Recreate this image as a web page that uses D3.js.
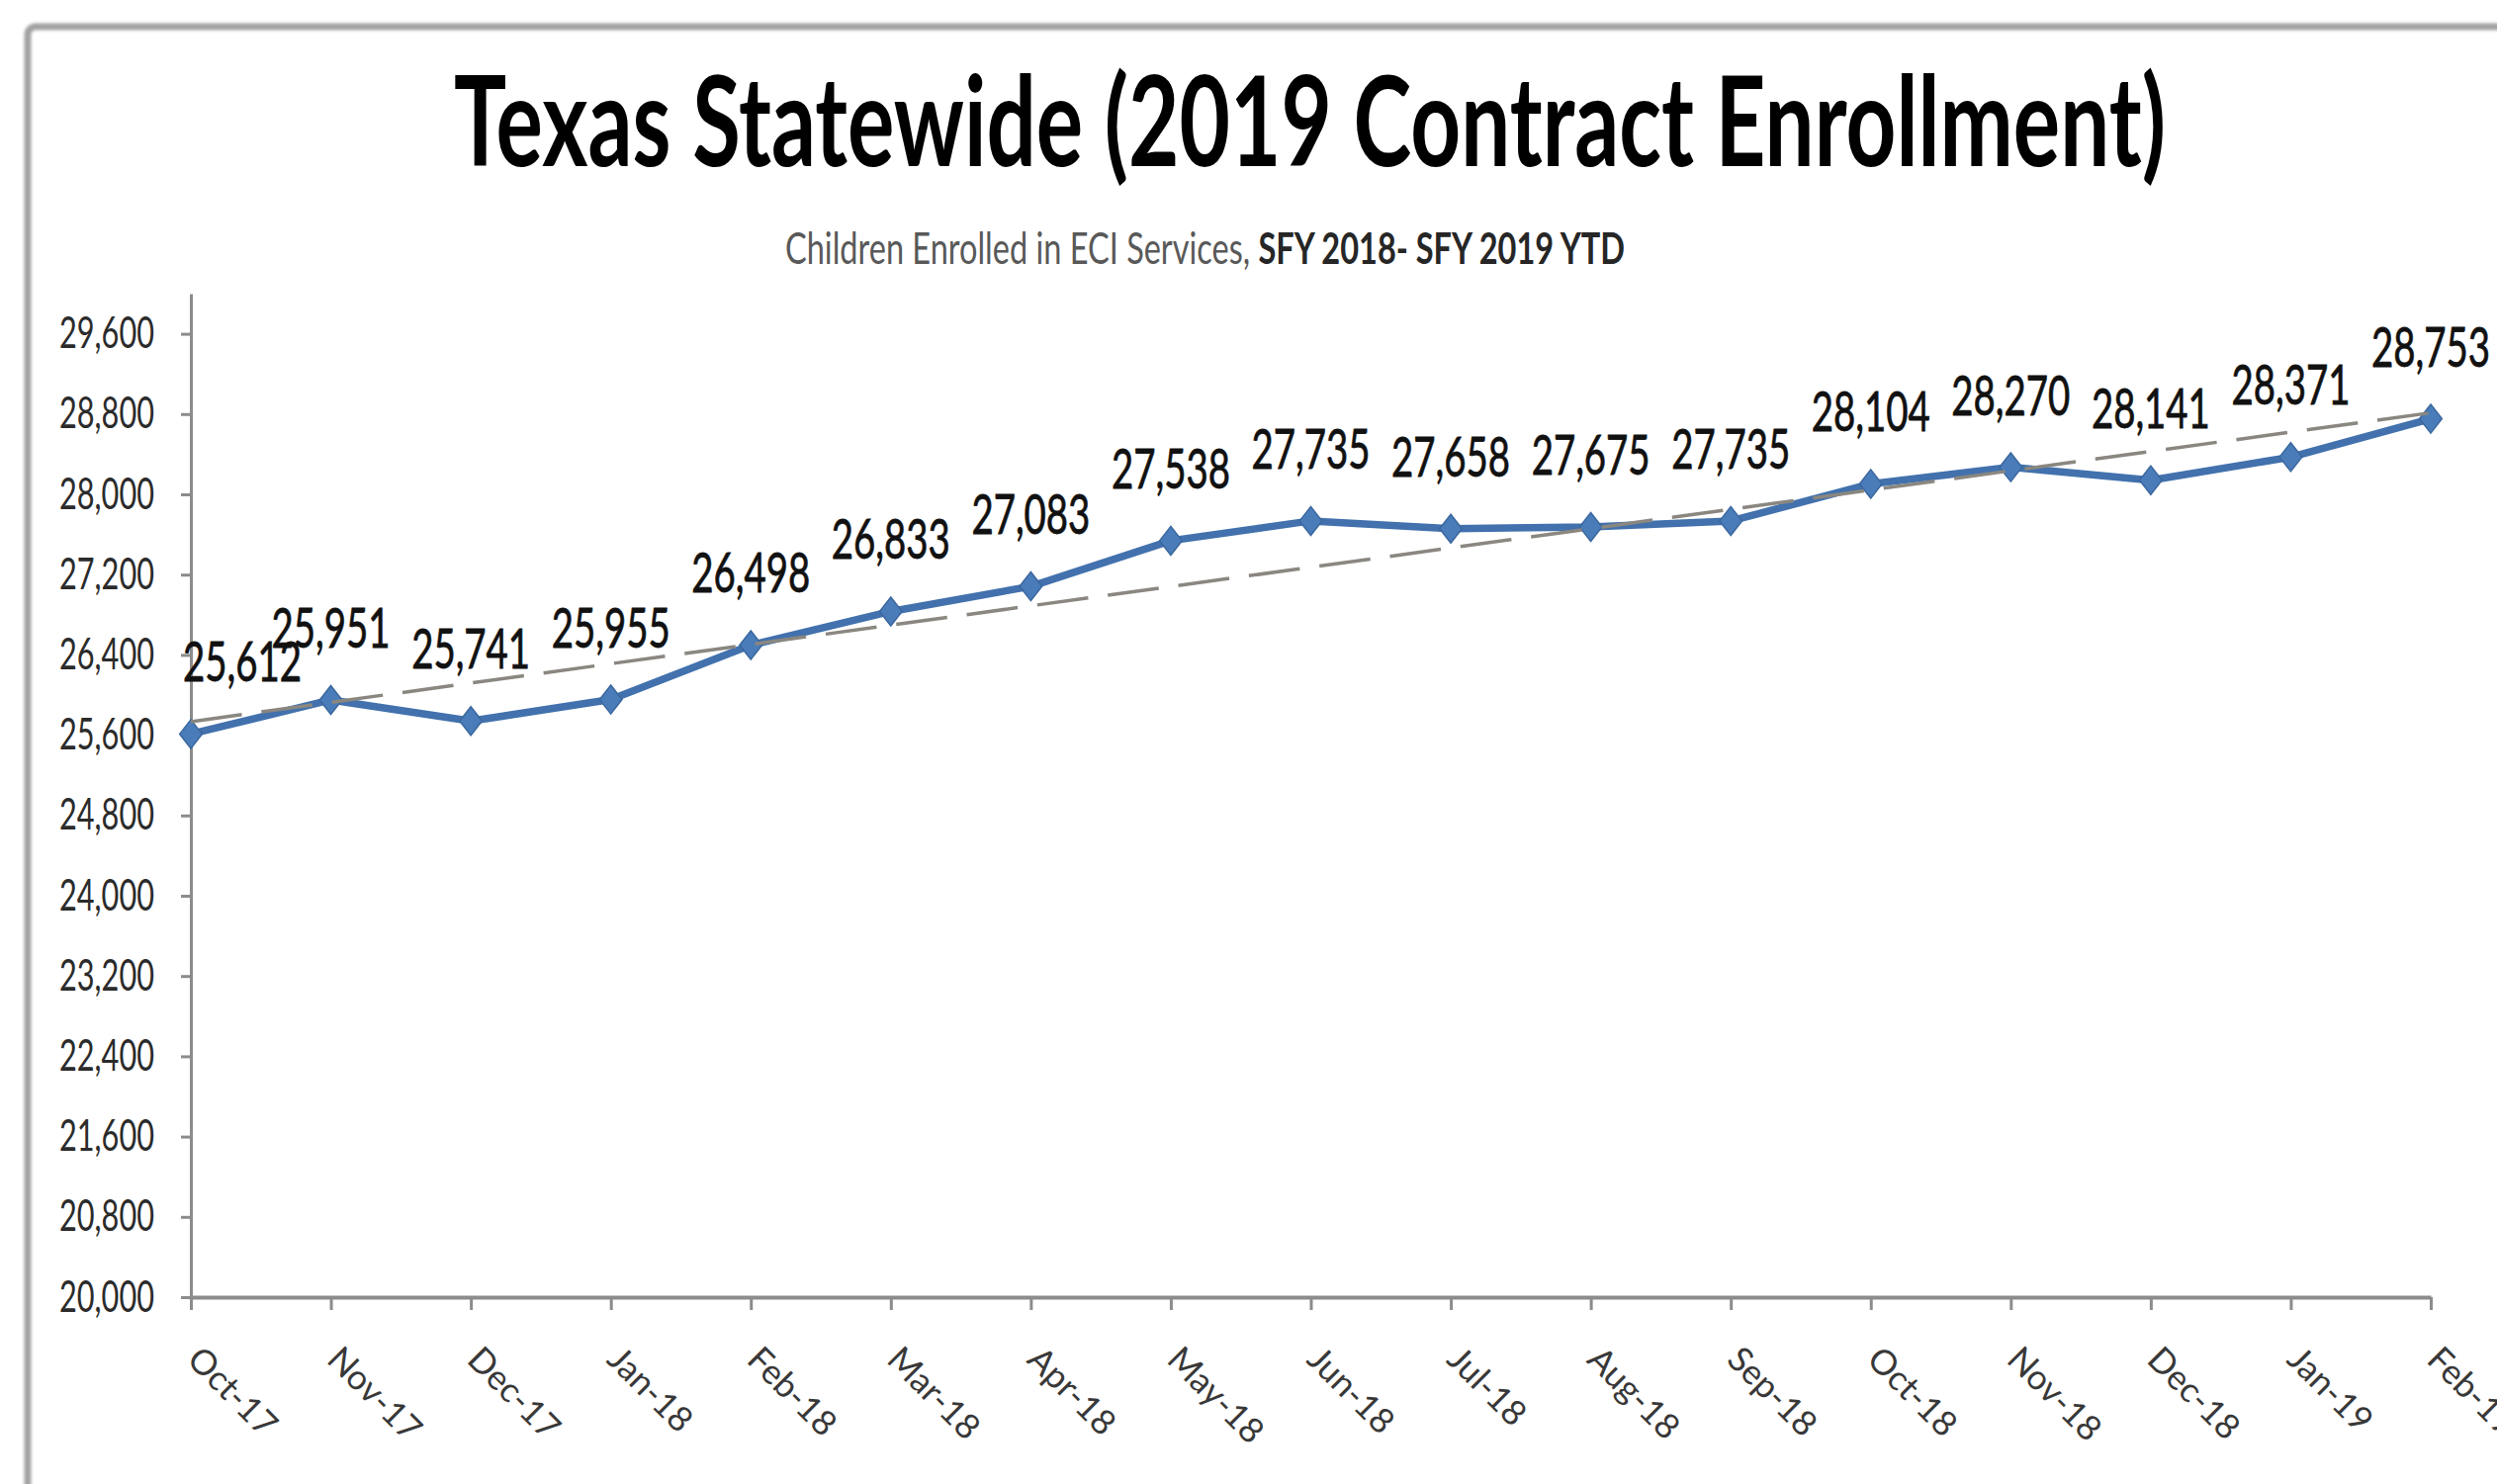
<!DOCTYPE html>
<html>
<head>
<meta charset="utf-8">
<script src="https://cdn.jsdelivr.net/npm/d3@7"></script>
<style>
  html, body { margin: 0; padding: 0; background: #ffffff; }
  svg { display: block; }
</style>
</head>
<body>
<svg id="chart" width="2525" height="1501"></svg>
<script>
// Monthly enrollment, Oct-17 through Feb-19
const months = ["Oct-17", "Nov-17", "Dec-17", "Jan-18", "Feb-18", "Mar-18", "Apr-18", "May-18",
                "Jun-18", "Jul-18", "Aug-18", "Sep-18", "Oct-18", "Nov-18", "Dec-18", "Jan-19", "Feb-19"];
const enrolled = [25612, 25951, 25741, 25955, 26498, 26833, 27083, 27538,
                  27735, 27658, 27675, 27735, 28104, 28270, 28141, 28371, 28753];
const yTickValues = [20000, 20800, 21600, 22400, 23200, 24000, 24800, 25600,
                     26400, 27200, 28000, 28800, 29600];
const yDomain = [20000, 30000];

const chartTitle = "Texas Statewide (2019 Contract Enrollment)";
const subtitleLead = "Children Enrolled  in ECI  Services, ";
const subtitleTail = "SFY 2018- SFY 2019 YTD";

const W = 2525, H = 1501;
const FONT = "Lato, 'Open Sans', 'Liberation Sans', sans-serif";
const plot = { left: 193, right: 2458, top: 297, bottom: 1312 };

const svg = d3.select("#chart");

// soft outer frame of the chart area
const defs = svg.append("defs");
defs.append("filter").attr("id", "soft")
  .attr("x", "-5%").attr("y", "-5%").attr("width", "110%").attr("height", "110%")
  .append("feGaussianBlur").attr("stdDeviation", 1.6);

svg.append("rect")
  .attr("width", W).attr("height", H).attr("fill", "#ffffff");
svg.append("rect")
  .attr("x", 28).attr("y", 27).attr("width", W + 40).attr("height", H + 40)
  .attr("rx", 8)
  .attr("fill", "none").attr("stroke", "#a2a2a2").attr("stroke-width", 7)
  .attr("filter", "url(#soft)");

// titles
svg.append("text")
  .attr("x", 459).attr("y", 168)
  .attr("font-family", FONT).attr("font-weight", 700).attr("font-size", 127)
  .attr("fill", "#000000")
  .attr("textLength", 1731).attr("lengthAdjust", "spacingAndGlyphs")
  .text(chartTitle);

const sub = svg.append("text")
  .attr("x", 794).attr("y", 267)
  .attr("font-family", FONT).attr("font-size", 44)
  .attr("fill", "#404040")
  .attr("textLength", 849).attr("lengthAdjust", "spacingAndGlyphs");
sub.append("tspan").attr("fill", "#595959").text(subtitleLead);
sub.append("tspan").attr("font-weight", 700).attr("fill", "#262626").text(subtitleTail);

// scales
const x = d3.scalePoint().domain(months).range([plot.left, plot.right]).padding(0);
const y = d3.scaleLinear().domain(yDomain).range([plot.bottom, plot.top]);

// y axis
const yAxis = svg.append("g")
  .attr("transform", `translate(${plot.left},0)`)
  .call(d3.axisLeft(y).tickValues(yTickValues).tickSize(10).tickSizeOuter(0)
        .tickPadding(27).tickFormat(d3.format(",")));
yAxis.select(".domain").attr("stroke", "#8c8c8c").attr("stroke-width", 3);
yAxis.selectAll(".tick line").attr("stroke", "#8c8c8c").attr("stroke-width", 3);
yAxis.selectAll(".tick text")
  .attr("font-family", FONT).attr("font-size", 44).attr("fill", "#2b2b2b")
  .attr("textLength", 96).attr("lengthAdjust", "spacingAndGlyphs");

// x axis with diagonal month labels
const xAxis = svg.append("g")
  .attr("transform", `translate(0,${plot.bottom})`)
  .call(d3.axisBottom(x).tickSize(13).tickSizeOuter(0));
xAxis.select(".domain").attr("stroke", "#8c8c8c").attr("stroke-width", 4);
xAxis.selectAll(".tick line").attr("stroke", "#8c8c8c").attr("stroke-width", 3);
xAxis.selectAll(".tick text")
  .attr("x", 0).attr("y", 0).attr("dy", 0)
  .attr("transform", "translate(-6,65) rotate(45)")
  .attr("text-anchor", "start")
  .attr("font-family", FONT).attr("font-size", 35).attr("fill", "#383838");

// enrollment line
const line = d3.line()
  .x((d, i) => x(months[i]))
  .y(d => y(d));

svg.append("path")
  .datum(enrolled)
  .attr("d", line)
  .attr("fill", "none")
  .attr("stroke", "#4271ad")
  .attr("stroke-width", 7.5)
  .attr("stroke-linejoin", "round");

// diamond markers
const diamondType = {
  draw(ctx, size) {
    const h = Math.sqrt(size) * 0.8, w = h * 0.78;
    ctx.moveTo(0, -h); ctx.lineTo(w, 0); ctx.lineTo(0, h); ctx.lineTo(-w, 0); ctx.closePath();
  }
};
svg.append("g").selectAll("path")
  .data(enrolled)
  .join("path")
  .attr("transform", (d, i) => `translate(${x(months[i])},${y(d)})`)
  .attr("d", d3.symbol().type(diamondType).size(330))
  .attr("fill", "#4a7cba")
  .attr("stroke", "#3b679e")
  .attr("stroke-width", 1.5);

// linear trendline (least squares over month index)
const n = enrolled.length;
const meanX = d3.mean(enrolled, (d, i) => i);
const meanY = d3.mean(enrolled);
const slope = d3.sum(enrolled, (d, i) => (i - meanX) * (d - meanY)) /
              d3.sum(enrolled, (d, i) => (i - meanX) * (i - meanX));
const intercept = meanY - slope * meanX;
const trendEnds = [0, n - 1].map(i => ({ m: months[i], v: intercept + slope * i }));

svg.append("path")
  .datum(trendEnds)
  .attr("d", d3.line().x(d => x(d.m)).y(d => y(d.v)))
  .attr("fill", "none")
  .attr("stroke", "#8a8780")
  .attr("stroke-width", 3.5)
  .attr("stroke-dasharray", "52 20");

// value labels above each point
const fmt = d3.format(",");
const labelW = 120;
svg.append("g").selectAll("text")
  .data(enrolled)
  .join("text")
  .attr("x", (d, i) => Math.max(x(months[i]), plot.left + labelW / 2 - 8))
  .attr("y", d => y(d) - 53)
  .attr("text-anchor", "middle")
  .attr("font-family", FONT).attr("font-size", 56)
  .attr("fill", "#111111")
  .attr("stroke", "#111111").attr("stroke-width", 0.8)
  .attr("textLength", labelW).attr("lengthAdjust", "spacingAndGlyphs")
  .text(d => fmt(d));
</script>
</body>
</html>
